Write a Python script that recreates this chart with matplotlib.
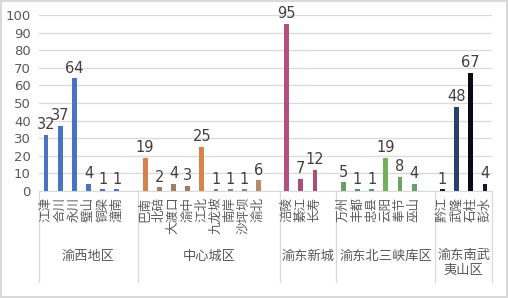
import matplotlib
matplotlib.use("Agg")
import matplotlib.pyplot as plt
from matplotlib.lines import Line2D

plt.rcParams['font.family'] = ['Noto Sans CJK SC', 'DejaVu Sans']

groups = ["渝西地区", "中心城区", "渝东新城", "渝东北三峡库区", "渝东南武\n夷山区"]
names = [
    ["江津", "合川", "永川", "璧山", "铜梁", "潼南"],
    ["巴南", "北碚", "大渡口", "渝中", "江北", "九龙坡", "南岸", "沙坪坝", "渝北"],
    ["涪陵", "綦江", "长寿"],
    ["万州", "丰都", "忠县", "云阳", "奉节", "巫山"],
    ["黔江", "武隆", "石柱", "彭水"],
]
values = [
    [32, 37, 64, 4, 1, 1],
    [19, 2, 4, 3, 25, 1, 1, 1, 6],
    [95, 7, 12],
    [5, 1, 1, 19, 8, 4],
    [1, 48, 67, 4],
]
colors = [
    ["#4A73C2"] * 6,
    ["#D2844C", "#A07C6A", "#A57C66", "#A27A68", "#D8834A", "#9E7E70", "#9E7E70", "#9E7E70", "#B88A66"],
    ["#B0507C", "#A84E78", "#AC4E7A"],
    ["#6A9E6A", "#5E8E74", "#5E8E74", "#72B05E", "#68A464", "#62A070"],
    ["#1A1A2C", "#27406E", "#0A0A16", "#141830"],
]

W, H = 508, 298
fig = plt.figure(figsize=(W / 100, H / 100), dpi=100)
fig.patch.set_facecolor("white")
fig.patch.set_edgecolor("#D9D9D9")
fig.patch.set_linewidth(1.5)

x0, x1 = 39, 492
ytop, ybot = 15, 191
ax = fig.add_axes([x0 / W, 1 - ybot / H, (x1 - x0) / W, (ybot - ytop) / H])

# slot layout: an empty slot after each group except the last
slots = []
pos = 0
bounds = [0]
for gi, g in enumerate(names):
    for _ in g:
        slots.append(pos)
        pos += 1
    if gi < len(names) - 1:
        pos += 1
    bounds.append(pos)
nslots = pos

allv = [v for g in values for v in g]
allc = [c for g in colors for c in g]
alln = [n for g in names for n in g]
xs = [s + 0.5 for s in slots]

ax.bar(xs, allv, width=0.34, color=allc, edgecolor="none", zorder=3)
for x, v in zip(xs, allv):
    ax.text(x, v + 1.5, str(v), ha="center", va="bottom", fontsize=10.5,
            color="#404040", family=["DejaVu Sans"], zorder=4)

ax.set_xlim(0, nslots)
ax.set_ylim(0, 100)
ax.set_yticks(range(0, 101, 10))
ax.tick_params(axis="y", length=0, labelsize=9.5, labelcolor="#595959", pad=6)
for t in ax.get_yticklabels():
    t.set_family(["DejaVu Sans"])
ax.set_xticks([])
ax.grid(axis="y", color="#D9D9D9", linewidth=0.9, zorder=0)
for s in ["top", "right", "left"]:
    ax.spines[s].set_visible(False)
ax.spines["bottom"].set_color("#D9D9D9")

# category labels
for x, n in zip(xs, alln):
    ax.annotate(n, xy=(x, 0), xycoords="data", xytext=(0, -4), textcoords="offset points",
                rotation=90, ha="center", va="top", fontsize=9, color="#595959",
                annotation_clip=False)

# group separators and labels
trans = ax.get_xaxis_transform()
yb = -(282 - ybot) / (ybot - ytop)
for b in bounds:
    ax.add_line(Line2D([b, b], [0, yb], transform=trans, color="#D9D9D9",
                       linewidth=0.9, clip_on=False))
for gi, g in enumerate(groups):
    cx = (bounds[gi] + bounds[gi + 1]) / 2
    ytxt = -(256 - ybot) / (ybot - ytop) if "\n" not in g else -(263 - ybot) / (ybot - ytop)
    ax.text(cx, ytxt, g, transform=trans, ha="center", va="center", fontsize=9.5,
            color="#595959", linespacing=1.25)

fig.savefig("out.png", dpi=100)
